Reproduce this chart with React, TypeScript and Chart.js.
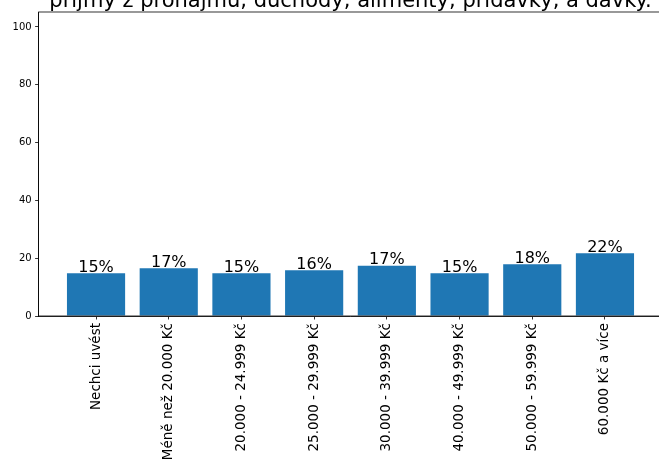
import React, { useEffect, useRef } from "react";
import { Chart, registerables } from "chart.js";

Chart.register(...registerables);

const categories: string[] = [
  "Nechci uvést",
  "Méně než 20.000 Kč",
  "20.000 - 24.999 Kč",
  "25.000 - 29.999 Kč",
  "30.000 - 39.999 Kč",
  "40.000 - 49.999 Kč",
  "50.000 - 59.999 Kč",
  "60.000 Kč a více",
];
const values: number[] = [14.8, 16.5, 14.8, 15.8, 17.4, 14.8, 17.9, 21.7];
const yTicks: number[] = [0, 20, 40, 60, 80, 100];
const titleText = "příjmy z pronájmu, důchody, alimenty, přídavky, a dávky.";

const CANVAS_W = 680;
const CANVAS_H = 491;
const OFFSET_Y = 30;

const FONT = '"DejaVu Sans", sans-serif';

export default function App() {
  const ref = useRef<HTMLCanvasElement | null>(null);

  useEffect(() => {
    if (!ref.current) return;
    const frame = {
      id: "frame",
      afterDraw(chart: any) {
        const { ctx, chartArea } = chart;
        ctx.save();
        ctx.strokeStyle = "#000";
        ctx.lineWidth = 0.8;
        ctx.strokeRect(chartArea.left, chartArea.top, chartArea.right - chartArea.left, chartArea.bottom - chartArea.top);
        ctx.fillStyle = "#000";
        ctx.font = `21px ${FONT}`;
        ctx.textAlign = "center";
        ctx.textBaseline = "alphabetic";
        ctx.fillText(titleText, (chartArea.left + chartArea.right) / 2, chartArea.top - 5);
        ctx.restore();
      },
    };
    const barLabels = {
      id: "barLabels",
      afterDatasetsDraw(chart: any) {
        const { ctx } = chart;
        const meta = chart.getDatasetMeta(0);
        ctx.save();
        ctx.fillStyle = "#000";
        ctx.font = `16px ${FONT}`;
        ctx.textAlign = "center";
        ctx.textBaseline = "alphabetic";
        meta.data.forEach((bar: any, i: number) => {
          ctx.fillText(Math.round(values[i]) + "%", bar.x, bar.y - 1.6);
        });
        ctx.restore();
      },
    };
    const chart = new Chart(ref.current, {
      type: "bar",
      data: {
        datasets: [
          {
            data: values.map((v, i) => ({ x: i, y: v })),
            backgroundColor: "#1f77b4",
            borderWidth: 0,
            barPercentage: 0.8,
            categoryPercentage: 1,
          },
        ],
      },
      options: {
        responsive: false,
        animation: false,
        devicePixelRatio: 1,
        layout: { padding: { top: 12 + OFFSET_Y, right: CANVAS_W - 662.4, left: 0, bottom: 0 } },
        plugins: { legend: { display: false }, tooltip: { enabled: false }, title: { display: false } },
        scales: {
          x: {
            type: "linear",
            min: -0.79,
            max: 7.79,
            offset: false,
            afterBuildTicks: (scale: any) => {
              scale.ticks = categories.map((_, i) => ({ value: i }));
            },
            afterFit: (scale: any) => {
              scale.height = CANVAS_H - (316 + OFFSET_Y);
            },
            grid: {
              display: true,
              offset: false,
              drawOnChartArea: false,
              drawTicks: true,
              tickLength: 3.5,
              tickWidth: 0.8,
              tickColor: "#000",
            },
            border: { display: true, color: "#000", width: 0.8 },
            ticks: {
              autoSkip: false,
              minRotation: 90,
              maxRotation: 90,
              padding: 3.5,
              color: "#000",
              font: { family: FONT, size: 13.5 },
              callback: (v: any) => categories[Math.round(Number(v))] ?? "",
            },
          },
          y: {
            type: "linear",
            min: 0,
            max: (316 - 12) / 2.89,
            afterBuildTicks: (scale: any) => {
              scale.ticks = yTicks.map((v) => ({ value: v }));
            },
            afterFit: (scale: any) => {
              scale.width = 38.6;
            },
            grid: {
              display: true,
              offset: false,
              drawOnChartArea: false,
              drawTicks: true,
              tickLength: 3.5,
              tickWidth: 0.8,
              tickColor: "#000",
            },
            border: { display: true, color: "#000", width: 0.8 },
            ticks: {
              padding: 3.5,
              color: "#000",
              font: { family: FONT, size: 10 },
              callback: (v: any) => String(v),
            },
          },
        },
      },
      plugins: [frame, barLabels],
    } as any);
    return () => chart.destroy();
  }, []);

  return (
    <div
      style={{
        position: "fixed",
        left: 0,
        top: 0,
        width: 659,
        height: 461,
        overflow: "hidden",
        background: "#fff",
      }}
    >
      <canvas
        ref={ref}
        width={CANVAS_W}
        height={CANVAS_H}
        style={{ position: "absolute", left: 0, top: -OFFSET_Y, width: CANVAS_W, height: CANVAS_H, display: "block" }}
      />
    </div>
  );
}
